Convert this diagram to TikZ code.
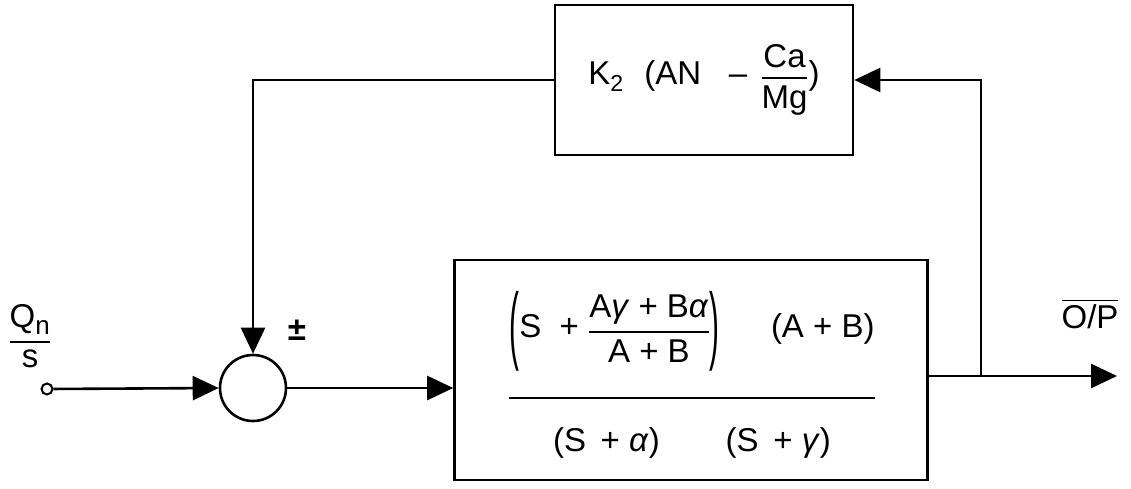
\documentclass[tikz,border=0pt]{standalone}
\usepackage{amsmath}
\usepackage{fontspec}
\setmainfont{Liberation Sans}
\usetikzlibrary{arrows.meta}

\newcommand{\barfrac}[2]{\genfrac{}{}{2.2pt}{0}{#1}{#2}}
\newcommand{\tallparen}[1]{\vcenter{\hbox{\scalebox{0.9}[2.6]{#1}}}}

\tikzset{
  blockbox/.style={draw, line width=2.6pt, rectangle, inner sep=0pt},
  sumnode/.style={draw, line width=2.6pt, circle, minimum size=66pt, inner sep=0pt},
  link/.style={line width=2.6pt, -{Triangle[length=26pt,width=24pt]}},
}

\begin{document}
\begin{tikzpicture}[x=1pt,y=-1pt,font=\fontsize{33}{40}\selectfont]
\useasboundingbox (0,0) rectangle (1131,488);
% blocks:
\node[blockbox, minimum width=298pt, minimum height=150pt] (fb) at (704,80)
  {$\text{K}_{\text{2}}\;\;\;\text{(AN \ \ – }\,\barfrac{\text{Ca}}{\text{Mg}}\text{)}$};
\node[blockbox, minimum width=473pt, minimum height=220pt] (plant) at (691,370) {};
\node (tf) at (692,375)
  {$\barfrac{\tallparen{(}\text{S \ + }\barfrac{\text{A\textit{γ} + B\textit{α}}}{\text{A + B}}\tallparen{)}\text{\quad\ \ (A + B)}\rule[-52pt]{0pt}{0pt}}{\rule{0pt}{46pt}\text{(S \,+ \textit{α})\qquad(S \,+ \textit{γ})}}$};
\node[sumnode] (sum) at (253,388) {};
\node[draw, circle, line width=2pt, minimum size=11pt, inner sep=0pt] (in) at (47,389) {};
\coordinate (branch) at (981,376);
\coordinate (out) at (1117,376);
% labels:
\node (qlabel) at (30,336) {$\barfrac{\text{Q}_{\text{\fontsize{26}{30}\selectfont n}}}{\text{s}}$};
\node[font=\fontsize{33}{40}\bfseries] (sign) at (297,330) {±};
\node (outlabel) at (1090,314) {$\overline{\text{O/P}}$};
% connectors:
\draw[link] (in) -- (sum.west);
\draw[link] (sum.east) -- (sum -| plant.west);
\draw[link] (branch -| plant.east) -- (out);
\draw[link] (branch) |- (fb.east);
\draw[link] (fb.west) -| (sum.north);
\end{tikzpicture}
\end{document}
